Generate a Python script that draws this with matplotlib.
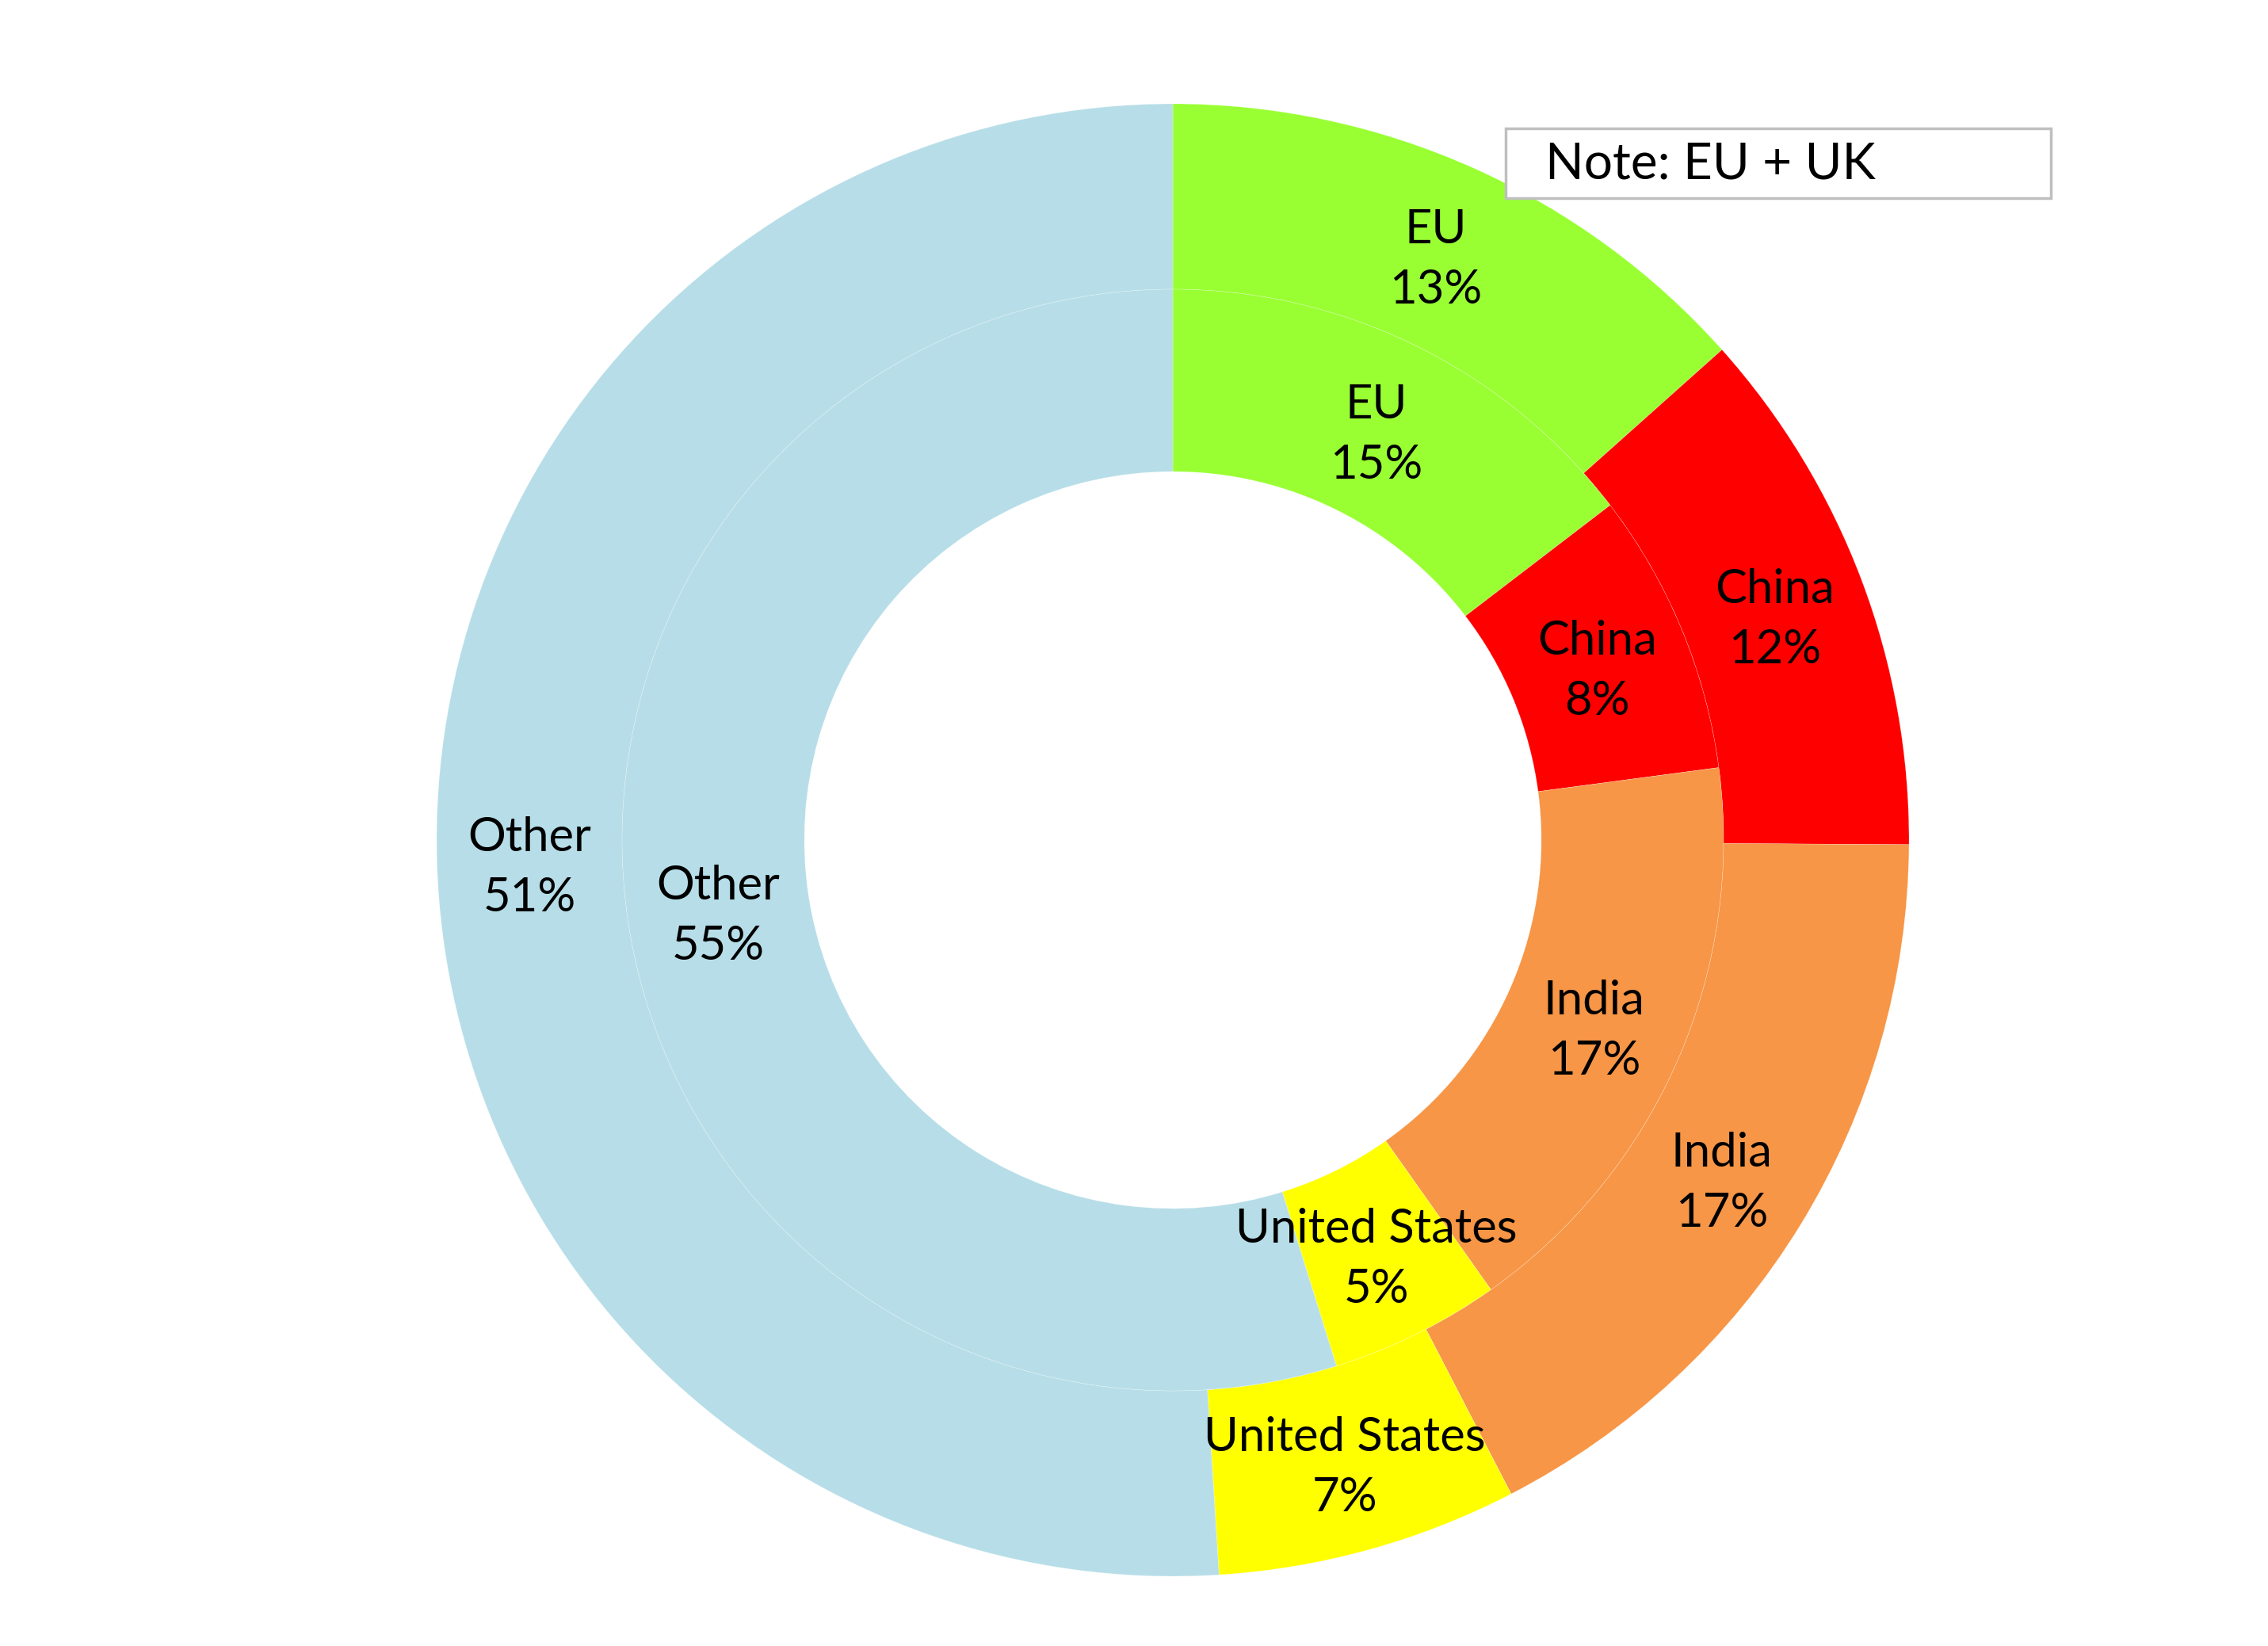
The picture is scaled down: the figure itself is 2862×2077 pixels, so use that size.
import matplotlib.pyplot as plt
from matplotlib.patches import Rectangle
from matplotlib.transforms import offset_copy

plt.rcParams['font.family'] = ['Lato', 'DejaVu Sans']

# data (share of total, %)
names = ["EU", "China", "India", "United States", "Other"]
outer_vals = [13.4, 11.7, 17.3, 6.6, 51.0]
inner_vals = [14.6, 8.3, 17.3, 5.0, 54.8]
colors = ["#99FF33", "#FF0000", "#F79646", "#FFFF00", "#B7DEE8"]
note = "Note: EU + UK"

W, H = 2862, 2077
cx, cy = 1480, 1060
r_out, r_mid, r_in = 929, 695, 465

fig = plt.figure(figsize=(W / 100, H / 100), dpi=100)
ax = fig.add_axes([0, 0, 1, 1])


def make_labels(vals):
    tot = sum(vals)
    return [f"{n}\n{v / tot * 100:.0f}%" for n, v in zip(names, vals)]


txt = dict(ha="center", va="center", fontsize=43, color="black", linespacing=1.5)
edge = dict(edgecolor=(1, 1, 1, 0.5), linewidth=0.3)

_, t_out = ax.pie(outer_vals, radius=r_out, colors=colors, startangle=90, counterclock=False,
                  labels=make_labels(outer_vals), labeldistance=(r_out + r_mid) / 2 / r_out,
                  wedgeprops=dict(width=r_out - r_mid, **edge), textprops=txt)
_, t_in = ax.pie(inner_vals, radius=r_mid, colors=colors, startangle=90, counterclock=False,
                 labels=make_labels(inner_vals), labeldistance=(r_mid + r_in) / 2 / r_mid,
                 wedgeprops=dict(width=r_mid - r_in, **edge), textprops=txt)

ax.set_xlim(-cx, W - cx)
ax.set_ylim(-(H - cy), cy)
ax.set_aspect("equal")
ax.axis("off")

# labels sit a little lower in the original
for t in list(t_out) + list(t_in):
    t.set_transform(offset_copy(ax.transData, fig=fig, x=0, y=-9, units="dots"))

# note box, top right
box = Rectangle((1900 / W, 1 - 250 / H), 688 / W, 88 / H, transform=fig.transFigure,
                facecolor="white", edgecolor="#BFBFBF", linewidth=2.5)
fig.patches.append(box)
fig.text(1950 / W, 1 - 207 / H, note, ha="left", va="center", fontsize=46, color="black")

fig.savefig("out.png", dpi=100)
